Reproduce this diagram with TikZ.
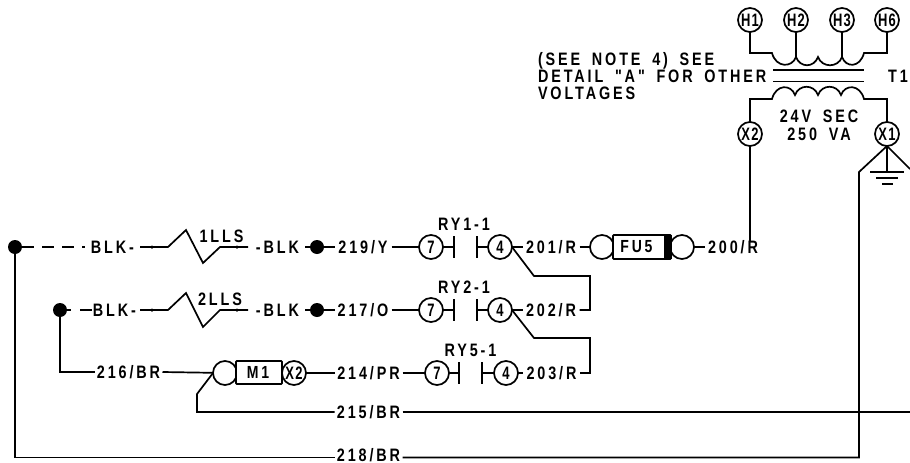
\documentclass[tikz,border=0pt]{standalone}
\usepackage{fontspec}
\newfontfamily\wf[FakeStretch=0.8,LetterSpace=16,WordSpace=1.7,BoldFont={Liberation Sans Bold}]{Liberation Sans}
\newfontfamily\cf[FakeStretch=0.72,LetterSpace=7,BoldFont={Liberation Sans Bold}]{Liberation Sans}
\tikzset{
  wire/.style={line width=1.7pt,line cap=butt,line join=miter},
  lbl/.style={font=\wf\bfseries\fontsize{18}{18}\selectfont,inner sep=0pt,outer sep=1.5pt,anchor=center,text height=13pt,text depth=0pt},
  wirelbl/.style={lbl,minimum width=65pt},
  term/.style={circle,draw,line width=1.7pt,minimum size=24pt,inner sep=0pt,outer sep=0pt,fill=white,font=\cf\bfseries\fontsize{18}{18}\selectfont},
  bigdot/.style={circle,fill,minimum size=14pt,inner sep=0pt,outer sep=0pt},
  tinydot/.style={circle,fill,minimum size=3.5pt,inner sep=0pt,outer sep=0pt},
  devbox/.style={rectangle,draw,line width=1.7pt,inner sep=0pt,outer sep=0pt,fill=white,rounded corners=0.8pt},
  devtxt/.style={font=\wf\bfseries\fontsize{17.5}{17.5}\selectfont,inner sep=0pt},
  notetxt/.style={lbl,anchor=west,outer sep=0pt}
}
\begin{document}
\begin{tikzpicture}[x=1pt,y=-1pt]
\useasboundingbox (0,0) rectangle (910,463);
% transformer terminals
\node[term] (h1) at (750,20) {H1};
\node[term] (h2) at (796,20) {H2};
\node[term] (h3) at (842,20) {H3};
\node[term] (h6) at (887,20) {H6};
\node[term] (x2) at (750,134) {X2};
\node[term] (x1) at (887,134) {X1};
\coordinate (p0) at (772,53);
\coordinate (p1) at (796,57);
\coordinate (p2) at (818,57);
\coordinate (p3) at (842,57);
\coordinate (p4) at (864,53);
\draw[wire] (h1) -- (h1 |- p0) -- (p0)
  .. controls (776,68) and (792,68) .. (p1)
  .. controls (800,68) and (814,68) .. (p2)
  .. controls (822,68) and (838,68) .. (p3)
  .. controls (846,68) and (860,68) .. (p4) -- (h6 |- p4) -- (h6);
\draw[wire] (h2) -- (p1);
\draw[wire] (h3) -- (p3);
\coordinate (c1a) at (773,70); \coordinate (c1b) at (864,70);
\coordinate (c2a) at (773,81.5); \coordinate (c2b) at (864,81.5);
\draw[wire] (c1a) -- (c1b);
\draw[wire] (c2a) -- (c2b);
\coordinate (s0) at (772,99);
\coordinate (s1) at (795,95);
\coordinate (s2) at (818,95);
\coordinate (s3) at (841,95);
\coordinate (s4) at (864,99);
\draw[wire] (x2) -- (x2 |- s0) -- (s0)
  .. controls (776,84) and (791,84) .. (s1)
  .. controls (799,84) and (814,84) .. (s2)
  .. controls (822,84) and (837,84) .. (s3)
  .. controls (845,84) and (860,84) .. (s4) -- (x1 |- s4) -- (x1);
% ground
\coordinate (g0) at (887,172);
\coordinate (g1a) at (870,172); \coordinate (g1b) at (904,172);
\coordinate (g2a) at (876,178); \coordinate (g2b) at (898,178);
\coordinate (g3a) at (882,184); \coordinate (g3b) at (893,184);
\draw[wire] (x1.south) -- (g0);
\draw[wire] (g1a) -- (g1b);
\draw[wire] (g2a) -- (g2b);
\draw[wire] (g3a) -- (g3b);
\coordinate (gr) at (910,169);
\draw[wire] (x1.south) -- (gr);
% note texts
\node[notetxt] (n1) at (538,59) {(SEE NOTE 4) SEE};
\node[notetxt] (n2) at (538,76) {DETAIL "A" FOR OTHER};
\node[notetxt] (n3) at (538,93) {VOLTAGES};
\node[lbl] (t1) at (898,76) {T1};
\node[lbl] (sec1) at (819,116) {24V SEC};
\node[lbl] (sec2) at (819,133.5) {250 VA};
% row 1
\node[bigdot] (d1) at (15,247) {};
\node[lbl] (blk1) at (112.5,247) {BLK-};
\coordinate (z1a) at (168,247); \coordinate (z1b) at (186,230);
\coordinate (z1c) at (203,263); \coordinate (z1d) at (220,247);
\coordinate (e1a) at (140,247); \coordinate (e1b) at (248,247);
\node[tinydot] (sd1) at (152,247) {};
\node[tinydot] (sd2) at (237,247) {};
\node[lbl] (lls1) at (221.5,236) {1LLS};
\node[lbl] (blk2) at (277.5,247) {-BLK};
\node[bigdot] (d2) at (317,247) {};
\node[wirelbl,minimum width=54pt] (w219) at (363,247) {219/Y};
\node[term] (a7) at (431,247) {7};
\coordinate (a1) at (454,247);
\coordinate (a1t) at (454,236); \coordinate (a1b) at (454,258);
\coordinate (a2) at (477,247);
\coordinate (a2t) at (477,236); \coordinate (a2b) at (477,258);
\node[term] (a4) at (500,247) {4};
\node[lbl] (ry1) at (464,224) {RY1-1};
\node[wirelbl,minimum width=54pt] (w201) at (551,247) {201/R};
\node[term] (f1) at (602,247) {};
\node[term] (f2) at (682,247) {};
\node[devbox,minimum width=58pt,minimum height=24pt] (fu5) at (642,247) {};
\node[devtxt] (fu5t) at (636.5,247) {FU5};
\fill (664,235) rectangle (671.7,259);
\node[wirelbl,minimum width=54pt] (w200) at (733,247) {200/R};
\coordinate (ds1) at (85,247);
\draw[wire,dash pattern=on 12pt off 8pt] (d1) -- (ds1);
\draw[wire] (e1a) -- (z1a) -- (z1b) -- (z1c) -- (z1d) -- (e1b);
\coordinate (b2s) at (305,247);
\draw[wire] (b2s) -- (d2);
\draw[wire] (d2) -- (w219.west);
\draw[wire] (w219.east) -- (a7);
\draw[wire] (a7) -- (a1);
\draw[wire] (a1t) -- (a1b);
\draw[wire] (a2t) -- (a2b);
\draw[wire] (a2) -- (a4);
\draw[wire] (a4) -- (w201.west);
\draw[wire] (w201.east) -- (f1);
\draw[wire] (f2) -- (w200.west);
\coordinate (x2e) at (750,241);
\draw[wire] (x2) -- (x2e);
% row 2
\node[bigdot] (d3) at (60,310) {};
\node[lbl] (blk3) at (114.5,310) {BLK-};
\coordinate (stub3) at (71,310);
\coordinate (bd3) at (80,310); \coordinate (bd3b) at (92,310);
\coordinate (z2a) at (168,310); \coordinate (z2b) at (186,293);
\coordinate (z2c) at (203,327); \coordinate (z2d) at (220,310);
\coordinate (e2a) at (140,310); \coordinate (e2b) at (248,310);
\node[tinydot] (sd3) at (152,310) {};
\node[tinydot] (sd4) at (237,310) {};
\node[lbl] (lls2) at (220,299) {2LLS};
\node[lbl] (blk4) at (277.5,310) {-BLK};
\node[bigdot] (d4) at (317,310) {};
\node[wirelbl,minimum width=54pt] (w217) at (363,310) {217/O};
\node[term] (b7) at (431,310) {7};
\coordinate (b1) at (454,310);
\coordinate (b1t) at (454,299); \coordinate (b1b) at (454,321);
\coordinate (b2) at (477,310);
\coordinate (b2t) at (477,299); \coordinate (b2b) at (477,321);
\node[term] (b4) at (500,310) {4};
\node[lbl] (ry2) at (464,287) {RY2-1};
\node[wirelbl,minimum width=54pt] (w202) at (551,310) {202/R};
\draw[wire] (d3) -- (stub3);
\draw[wire] (bd3) -- (bd3b);
\draw[wire] (e2a) -- (z2a) -- (z2b) -- (z2c) -- (z2d) -- (e2b);
\coordinate (b4s) at (305,310);
\draw[wire] (b4s) -- (d4);
\draw[wire] (d4) -- (w217.west);
\draw[wire] (w217.east) -- (b7);
\draw[wire] (b7) -- (b1);
\draw[wire] (b1t) -- (b1b);
\draw[wire] (b2t) -- (b2b);
\draw[wire] (b2) -- (b4);
\draw[wire] (b4) -- (w202.west);
\coordinate (j1) at (534,276); \coordinate (j2) at (590,276);
\draw[wire] (a4.east) -- (j1) -- (j2) -- (j2 |- w202.east) -- (w202.east);
% row 3
\node[wirelbl] (w216) at (128.5,372) {216/BR};
\node[term] (m1c) at (225,373) {};
\node[term] (m1x) at (294,373) {X2};
\node[devbox,minimum width=46pt,minimum height=23pt] (m1) at (259,372.5) {};
\node[devtxt] (m1t) at (258,372) {M1};
\node[wirelbl] (w214) at (368.5,373) {214/PR};
\node[term] (c7) at (437,373) {7};
\coordinate (c1) at (459,373);
\coordinate (c1t) at (459,362); \coordinate (c1b) at (459,384);
\coordinate (c2) at (482,373);
\coordinate (c2t) at (482,362); \coordinate (c2b) at (482,384);
\node[term] (c4) at (506,373) {4};
\node[lbl] (ry5) at (470.5,350) {RY5-1};
\node[wirelbl,minimum width=54pt] (w203) at (551.5,373) {203/R};
\draw[wire] (d3) |- (w216.west);
\draw[wire] (w216.east) -- (m1c);
\draw[wire] (m1x) -- (w214.west);
\draw[wire] (w214.east) -- (c7);
\draw[wire] (c7) -- (c1);
\draw[wire] (c1t) -- (c1b);
\draw[wire] (c2t) -- (c2b);
\draw[wire] (c2) -- (c4);
\draw[wire] (c4) -- (w203.west);
\coordinate (j3) at (534,338); \coordinate (j4) at (590,338);
\draw[wire] (b4.east) -- (j3) -- (j4) -- (j4 |- w203.east) -- (w203.east);
% 215 wire
\node[wirelbl] (w215) at (368.5,412) {215/BR};
\coordinate (k0) at (213,373); \coordinate (k1) at (197,394); \coordinate (k2) at (197,412);
\coordinate (r215) at (910,412);
\draw[wire] (k0) -- (k1) -- (k2) -- (w215.west);
\draw[wire] (w215.east) -- (r215);
% 218 wire
\node[wirelbl] (w218) at (368.5,455) {218/BR};
\coordinate (r1) at (859,172);
\coordinate (w218l) at ([yshift=-2.5pt]w218.west);
\coordinate (w218r) at ([yshift=-2.5pt]w218.east);
\draw[wire] (d1) |- (w218l);
\draw[wire] (w218r) -| (r1) -- (x1.south);
\end{tikzpicture}
\end{document}
